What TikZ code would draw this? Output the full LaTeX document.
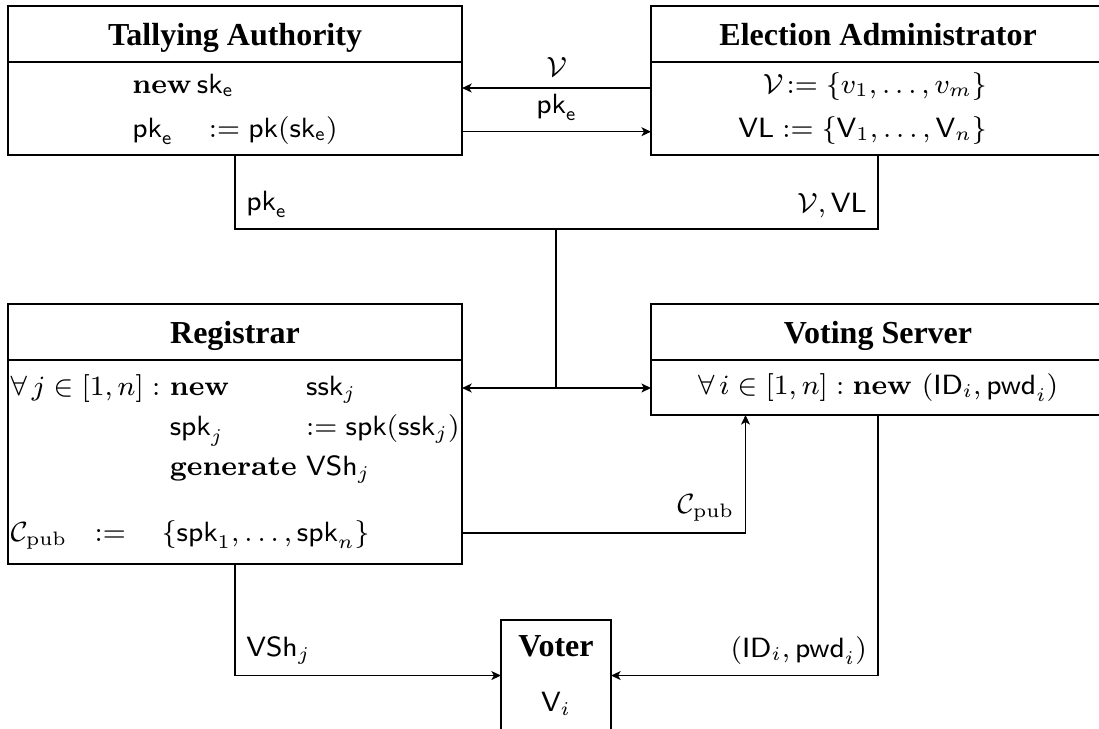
\RequirePackage{fix-cm}
\documentclass[tikz,border=0pt]{standalone}
\usepackage{amsmath}
\usepackage{amssymb}
\usepackage[no-math]{fontspec}
\newfontfamily\titlefont{Liberation Serif}
\usepackage{tikz}
\usetikzlibrary{arrows.meta,positioning}

\tikzset{
  hdr/.style={draw, outer sep=0pt, inner sep=0pt, minimum width=141.9pt,
    minimum height=17.5pt, text height=7pt, text depth=0pt,
    font=\fontsize{10}{12}\selectfont\titlefont\bfseries},
  bdy/.style={draw, outer sep=0pt, inner sep=0pt, minimum width=141.9pt},
  msg/.style={-{Stealth[length=3pt,width=2.8pt,inset=0.8pt]}}
}

\begin{document}
\begin{tikzpicture}[x=0.3125pt,y=-0.3125pt,font=\fontsize{8.7}{10.44}\selectfont]
    \clip (0,0) rectangle (1099,728);

    % tallying authority
    \node[hdr, anchor=north west] (ta) at (8,6) {Tallying Authority};
    \node[bdy, minimum height=29.06pt, below=0pt of ta] (tab)
      {$\begin{array}{@{}l@{}}
        \mathbf{new}\,\mathsf{sk}_\mathsf{e} \\[3.3pt]
        \mathsf{pk}_\mathsf{e}\quad := \mathsf{pk}(\mathsf{sk}_\mathsf{e})
      \end{array}$};

    % election administrator
    \node[hdr, anchor=north west] (ea) at (651,6) {Election Administrator};
    \node[bdy, minimum height=29.06pt, below=0pt of ea] (eab)
      {$\begin{array}{@{}r@{}}
        \mathcal{V}\!:= \{v_1, \ldots, v_m\} \\[3.3pt]
        \mathsf{VL} := \{\mathsf{V}_1, \ldots, \mathsf{V}_n\}
      \end{array}$\hspace*{9.7pt}};

    % registrar
    \node[hdr, anchor=north west] (reg) at (8,304) {Registrar};
    \node[bdy, minimum height=63.75pt, below=0pt of reg] (regb)
      {$\begin{array}{@{}l@{\ }l@{\ }l@{}}
        \forall\, j \in [1,n] : & \mathbf{new} & \mathsf{ssk}_j \\[2.06pt]
         & \mathsf{spk}_j & := \mathsf{spk}(\mathsf{ssk}_j) \\[2.06pt]
         & \mathbf{generate} & \mathsf{VSh}_j \\[10.2pt]
        \multicolumn{3}{@{}l@{}}{\mathcal{C}_\mathrm{pub}\ \ :=\quad
          \{\mathsf{spk}_1, \ldots, \mathsf{spk}_n\}}
      \end{array}$};

    % voting server
    \node[hdr, anchor=north west] (vs) at (651,304) {Voting Server};
    \node[bdy, minimum height=17.19pt, below=0pt of vs] (vsb)
      {$\forall\, i \in [1,n] : \mathbf{new}\ (\mathsf{ID}_i, \mathsf{pwd}_i)$};

    % voter
    \node[bdy, minimum width=34.4pt, minimum height=34.7pt, align=center,
      anchor=north] (vot) at (556,620)
      {{\fontsize{10}{12}\selectfont\titlefont\bfseries Voter}\\[6.76pt]$\mathsf{V}_i$};

    % setup
    \draw[msg] ([yshift=6.4pt]eab.west) -- ([yshift=6.4pt]tab.east)
      node[midway,above] {$\mathcal{V}$};
    \draw[msg] ([yshift=-7.25pt]tab.east) -- ([yshift=-7.25pt]eab.west)
      node[midway,above] {$\mathsf{pk}_\mathsf{e}$};

    % public data
    \path (556,229) coordinate (j1);
    \path (556,388) coordinate (j2);
    \draw (tab.south) |- (j1) node[pos=.5,anchor=south west] {$\mathsf{pk}_\mathsf{e}$}
      -| (eab.south) node[pos=.5,anchor=south east] {$\mathcal{V}, \mathsf{VL}$};
    \draw (j1) -- (j2);
    \draw[msg] (j2) -- (regb.east |- j2);
    \draw[msg] (j2) -- (vsb.west |- j2);

    % credentials
    \path (745.5,533) coordinate (c1);
    \draw[msg] (regb.east |- c1) -| (vsb.south -| c1)
      node[pos=.5,anchor=south east] {$\mathcal{C}_\mathrm{pub}$};
    \draw[msg] (regb.south) |- (vot.west)
      node[pos=.5,anchor=south west] {$\mathsf{VSh}_j$};
    \draw[msg] (vsb.south) |- (vot.east)
      node[pos=.5,anchor=south east] {$(\mathsf{ID}_i, \mathsf{pwd}_i)$};

\end{tikzpicture}
\end{document}
